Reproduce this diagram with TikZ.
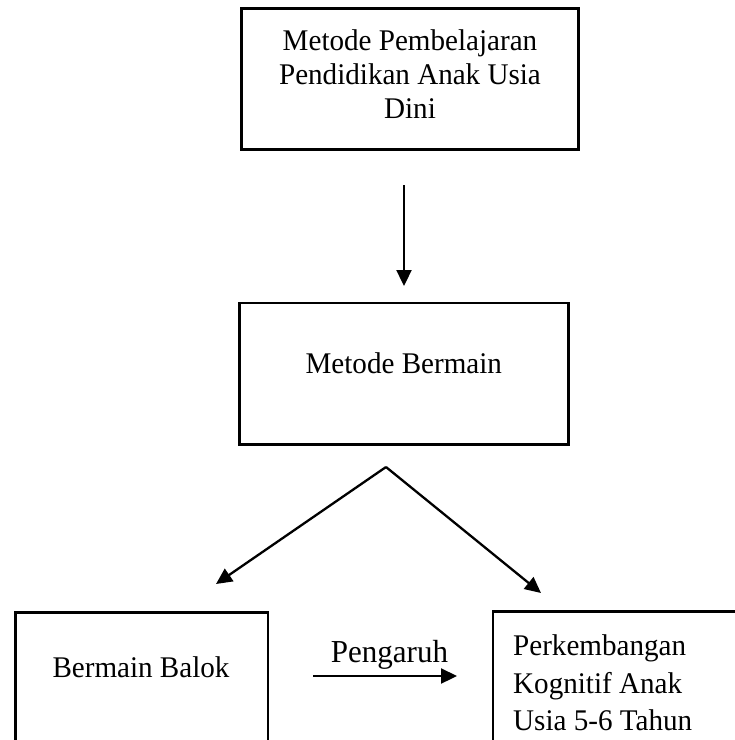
\documentclass[tikz,border=0pt]{standalone}
\usepackage{fontspec}
\setmainfont[FakeStretch=0.97]{Liberation Serif}
\usetikzlibrary{arrows.meta}
\begin{document}
\begin{tikzpicture}[x=1pt,y=-1pt,
  boxstyle/.style={draw,line width=2.7pt,inner sep=0pt,anchor=center},
  txt/.style={inner sep=0pt,font=\fontsize{30pt}{34pt}\selectfont},
  conn/.style={line width=2.3pt,-{Triangle[length=16pt,width=15pt]}}]
\useasboundingbox (0,0) rectangle (735,740);
\clip (0,0) rectangle (735,740);
\fill[white] (0,0) rectangle (735,740);
% boxes
\node[boxstyle,minimum width=337pt,minimum height=141pt] (top) at (410,79) {};
\node[boxstyle,minimum width=329pt,minimum height=141.5pt] (mid) at (404,373.75) {};
\node[boxstyle,minimum width=252.5pt,minimum height=187.5pt] (bl) at (141.75,706.25) {};
\node[boxstyle,minimum width=307pt,minimum height=188.5pt] (br) at (646.5,705.75) {};
% texts
\node[txt,align=center,anchor=north] (toptext) at (410,29.5)
  {Metode Pembelajaran\\Pendidikan Anak Usia\\Dini};
\node[txt,anchor=base] (midtext) at (403.8,373) {Metode Bermain};
\node[txt,anchor=base] (bltext) at (141,677) {Bermain Balok};
\node[txt,anchor=base,font=\fontsize{32pt}{34pt}\selectfont] (peng) at (389.5,662) {Pengaruh};
\node[txt,align=left,anchor=north west,font=\fontsize{30pt}{37.5pt}\selectfont] (brtext) at (513,634.5)
  {Perkembangan\\Kognitif Anak\\Usia 5-6 Tahun};
% connectors
\coordinate (a1s) at (404,185);
\coordinate (a1e) at (404,286);
\coordinate (apex) at (386,467);
\coordinate (lt) at (216,584);
\coordinate (rt) at (541,593);
\coordinate (ps) at (313,676);
\coordinate (pe) at (457,676);
\draw[conn] (a1s) -- (a1e);
\draw[conn] (apex) -- (lt);
\draw[conn] (apex) -- (rt);
\draw[conn] (ps) -- (pe);
\end{tikzpicture}
\end{document}
